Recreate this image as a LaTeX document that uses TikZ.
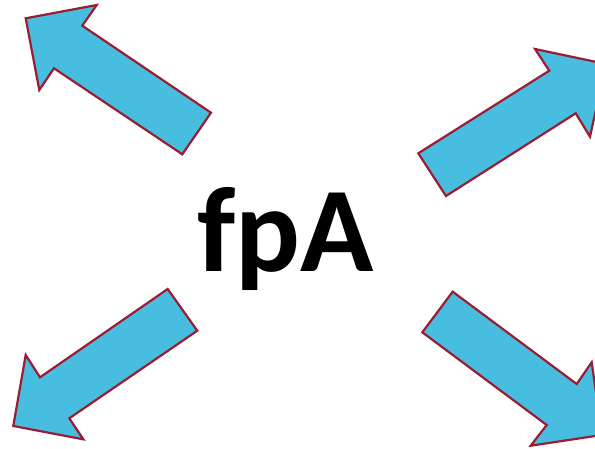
\documentclass[tikz,border=0pt]{standalone}
\usepackage{fontspec}
\setmainfont{Carlito}
\usepackage{tikz}
\usetikzlibrary{positioning}

\definecolor{arrowfill}{RGB}{71,189,224}
\definecolor{arrowline}{RGB}{155,29,52}

\begin{document}
\begin{tikzpicture}[
    x=1pt, y=-1pt,
    arrow_style/.style={draw=arrowline, fill=arrowfill, line width=2.2pt, line join=miter},
    label_style/.style={font=\fontsize{121}{121}\selectfont\bfseries, inner sep=0pt, anchor=base}
]

\useasboundingbox (0,0) rectangle (595,448);
\clip (0,0) rectangle (595,448);

% Centre label
\node[label_style] (fpa) at (286,271) {fpA};

% Top-left arrow
\draw[arrow_style] (211,112.7) -- (82.3,25.7) -- (96.7,5) -- (25.7,18.3)
    -- (39.3,90) -- (54,68.3) -- (182.3,154.3) -- cycle;

% Top-right arrow
\draw[arrow_style] (418.3,153.3) -- (549.3,70.7) -- (535,49) -- (606,64)
    -- (590,136.7) -- (575.7,113.3) -- (446,196) -- cycle;

% Bottom-left arrow
\draw[arrow_style] (167.7,289) -- (40,377.3) -- (25.7,355) -- (13.3,426)
    -- (83.3,439.3) -- (69.3,418.3) -- (197.3,330.7) -- cycle;

% Bottom-right arrow
\draw[arrow_style] (452.7,291.7) -- (576.7,384) -- (591.7,362.3) -- (602,435)
    -- (530.7,445.7) -- (546.7,425) -- (422.3,332.3) -- cycle;

\end{tikzpicture}
\end{document}
